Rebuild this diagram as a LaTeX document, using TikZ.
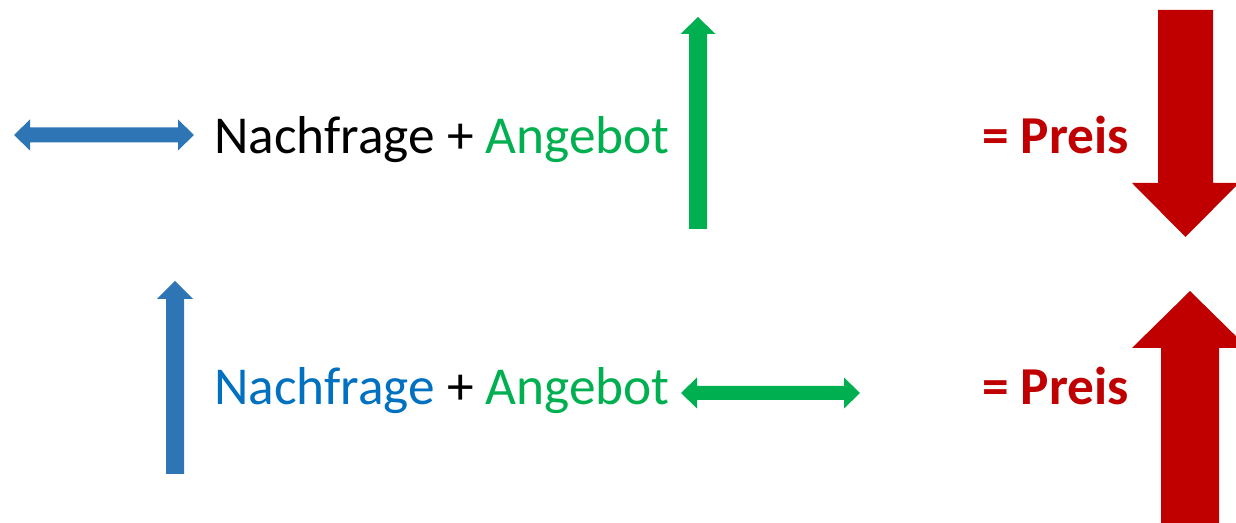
\documentclass[tikz,border=0pt]{standalone}
\usepackage{fontspec}
\setmainfont{Carlito}
\definecolor{arrblue}{HTML}{2E75B6}
\definecolor{txtblue}{HTML}{0070C0}
\definecolor{ggreen}{HTML}{00B050}
\definecolor{dred}{HTML}{C00000}
\begin{document}
\begin{tikzpicture}[x=0.75pt,y=-0.75pt,
  lbl/.style={anchor=base west,inner sep=0pt,font=\fontsize{40}{48}\selectfont},
  blk/.style={fill=arrblue,draw=none},
  grn/.style={fill=ggreen,draw=none},
  red/.style={fill=dred,draw=none}]
\useasboundingbox (0,0) rectangle (1236,523);
\clip (0,0) rectangle (1236,523);
% top row
\fill[blk] (14,135) -- (30,119.5) -- (30,127.5) -- (178,127.5) -- (178,119.5) -- (194,135)
  -- (178,150.5) -- (178,142.5) -- (30,142.5) -- (30,150.5) -- cycle;
\node[lbl] (t1) at (214,154) {Nachfrage + \textcolor{ggreen}{Angebot}};
\fill[grn] (698,17) -- (715.5,34) -- (707,34) -- (707,229) -- (689,229) -- (689,34) -- (680.5,34) -- cycle;
\node[lbl,text=dred,font=\fontsize{40}{48}\selectfont\bfseries] (p1) at (982,154) {= Preis};
\fill[red] (1158,10) -- (1213,10) -- (1213,183) -- (1239,183) -- (1185.5,237) -- (1132,183) -- (1158,183) -- cycle;
% bottom row
\fill[blk] (175,281) -- (193,299) -- (184,299) -- (184,474) -- (166,474) -- (166,299) -- (157,299) -- cycle;
\node[lbl] (t2) at (214,405) {\textcolor{txtblue}{Nachfrage} + \textcolor{ggreen}{Angebot}};
\fill[grn] (681,393) -- (697,377.5) -- (697,386) -- (844,386) -- (844,377.5) -- (860,393)
  -- (844,408.5) -- (844,400) -- (697,400) -- (697,408.5) -- cycle;
\node[lbl,text=dred,font=\fontsize{40}{48}\selectfont\bfseries] (p2) at (982,405) {= Preis};
\fill[red] (1190,291) -- (1248,348) -- (1219,348) -- (1219,530) -- (1161,530) -- (1161,348) -- (1132,348) -- cycle;
\end{tikzpicture}
\end{document}
